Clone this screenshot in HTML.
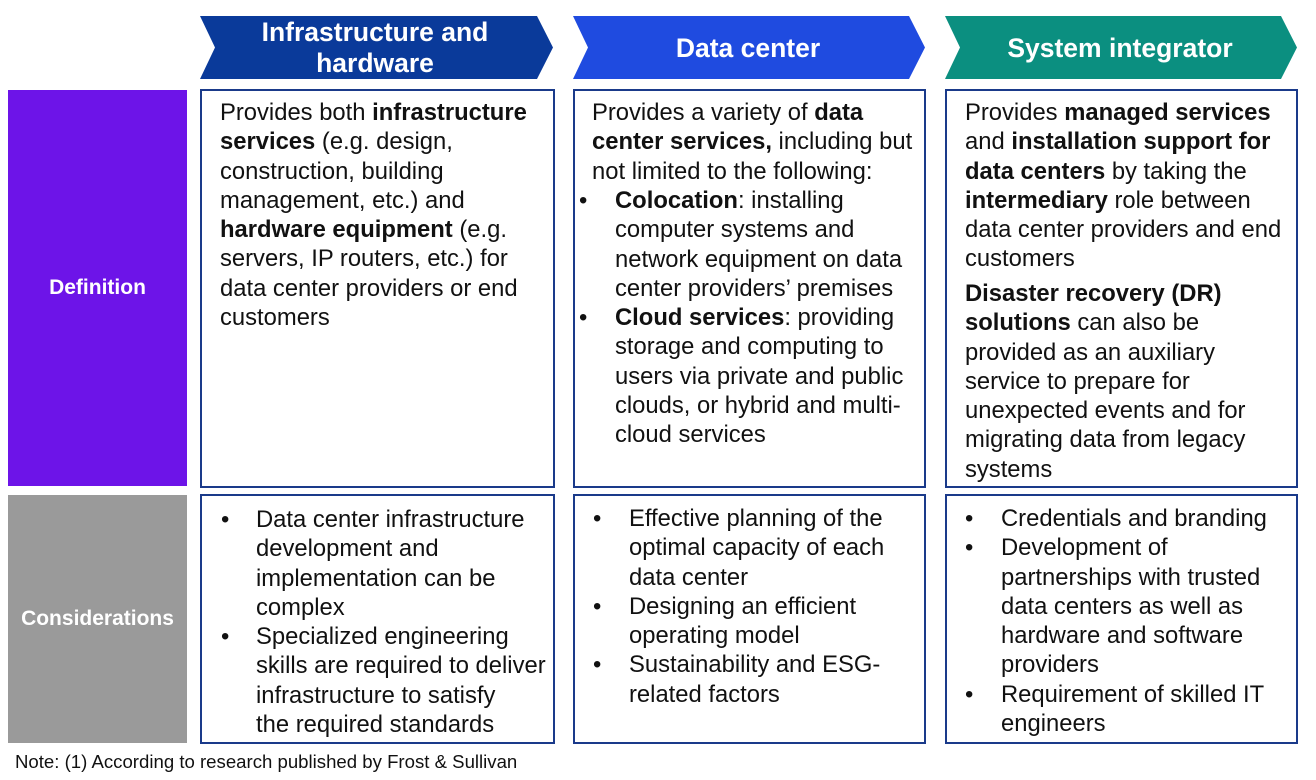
<!DOCTYPE html>
<html><head><meta charset="utf-8"><style>
body{margin:0;width:1316px;height:780px;background:#fff;position:relative;font-family:"Liberation Sans",Arial,sans-serif;overflow:hidden}
.lab{position:absolute;left:8px;width:179px;color:#fff;font-weight:bold;font-size:21px;display:flex;align-items:center;justify-content:center}
.box{position:absolute;border:2px solid #1a3a8a;box-sizing:border-box}
.t{position:absolute;font-size:23.8px;line-height:29.3px;color:#111;white-space:nowrap}
.hd{position:absolute;color:#fff;font-weight:bold;font-size:26.5px;text-align:center;line-height:31px}
</style></head><body>
<svg width="1316" height="90" style="position:absolute;left:0;top:0">
<polygon points="200,16 537,16 553,47.5 537,79 200,79 215,47.5" fill="#0a3a9a"/>
<polygon points="573,16 909,16 925,47.5 909,79 573,79 588,47.5" fill="#1f4be0"/>
<polygon points="945,16 1281,16 1297,47.5 1281,79 945,79 960,47.5" fill="#0b8f80"/>
</svg>
<div class="hd" style="left:205px;width:340px;top:17px">Infrastructure and<br>hardware</div>
<div class="hd" style="left:578px;width:340px;top:33px">Data center</div>
<div class="hd" style="left:950px;width:340px;top:33px">System integrator</div>

<div class="lab" style="top:90px;height:396px;background:#6d14e8">Definition</div>
<div class="lab" style="top:495px;height:248px;background:#9a9a9a">Considerations</div>

<div class="box" style="left:200px;top:89px;width:355px;height:399px"></div>
<div class="box" style="left:573px;top:89px;width:353px;height:399px"></div>
<div class="box" style="left:945px;top:89px;width:353px;height:399px"></div>
<div class="box" style="left:200px;top:494px;width:355px;height:250px"></div>
<div class="box" style="left:573px;top:494px;width:353px;height:250px"></div>
<div class="box" style="left:945px;top:494px;width:353px;height:250px"></div>

<div class="t" style="left:220px;top:98px">Provides both <b>infrastructure</b><br><b>services</b> (e.g. design,<br>construction, building<br>management, etc.) and<br><b>hardware equipment</b> (e.g.<br>servers, IP routers, etc.) for<br>data center providers or end<br>customers</div>

<div class="t" style="left:592px;top:98px">Provides a variety of <b>data</b><br><b>center services,</b> including but<br>not limited to the following:</div>
<div class="t" style="left:579px;top:186px">•<br><br><br><br>•</div>
<div class="t" style="left:615px;top:186px"><b>Colocation</b>: installing<br>computer systems and<br>network equipment on data<br>center providers’ premises<br><b>Cloud services</b>: providing<br>storage and computing to<br>users via private and public<br>clouds, or hybrid and multi-<br>cloud services</div>

<div class="t" style="left:965px;top:98px">Provides <b>managed services</b><br>and <b>installation support for</b><br><b>data centers</b> by taking the<br><b>intermediary</b> role between<br>data center providers and end<br>customers</div>
<div class="t" style="left:965px;top:279px"><b>Disaster recovery (DR)</b><br><b>solutions</b> can also be<br>provided as an auxiliary<br>service to prepare for<br>unexpected events and for<br>migrating data from legacy<br>systems</div>

<div class="t" style="left:221px;top:505px">•<br><br><br><br>•</div>
<div class="t" style="left:256px;top:505px">Data center infrastructure<br>development and<br>implementation can be<br>complex<br>Specialized engineering<br>skills are required to deliver<br>infrastructure to satisfy<br>the required standards</div>

<div class="t" style="left:593px;top:504px">•<br><br><br>•<br><br>•</div>
<div class="t" style="left:629px;top:504px">Effective planning of the<br>optimal capacity of each<br>data center<br>Designing an efficient<br>operating model<br>Sustainability and ESG-<br>related factors</div>

<div class="t" style="left:965px;top:504px">•<br>•<br><br><br><br><br>•</div>
<div class="t" style="left:1001px;top:504px">Credentials and branding<br>Development of<br>partnerships with trusted<br>data centers as well as<br>hardware and software<br>providers<br>Requirement of skilled IT<br>engineers</div>

<div class="t" style="left:15px;top:751px;font-size:18.6px;line-height:22px">Note: (1) According to research published by Frost &amp; Sullivan</div>
</body></html>
